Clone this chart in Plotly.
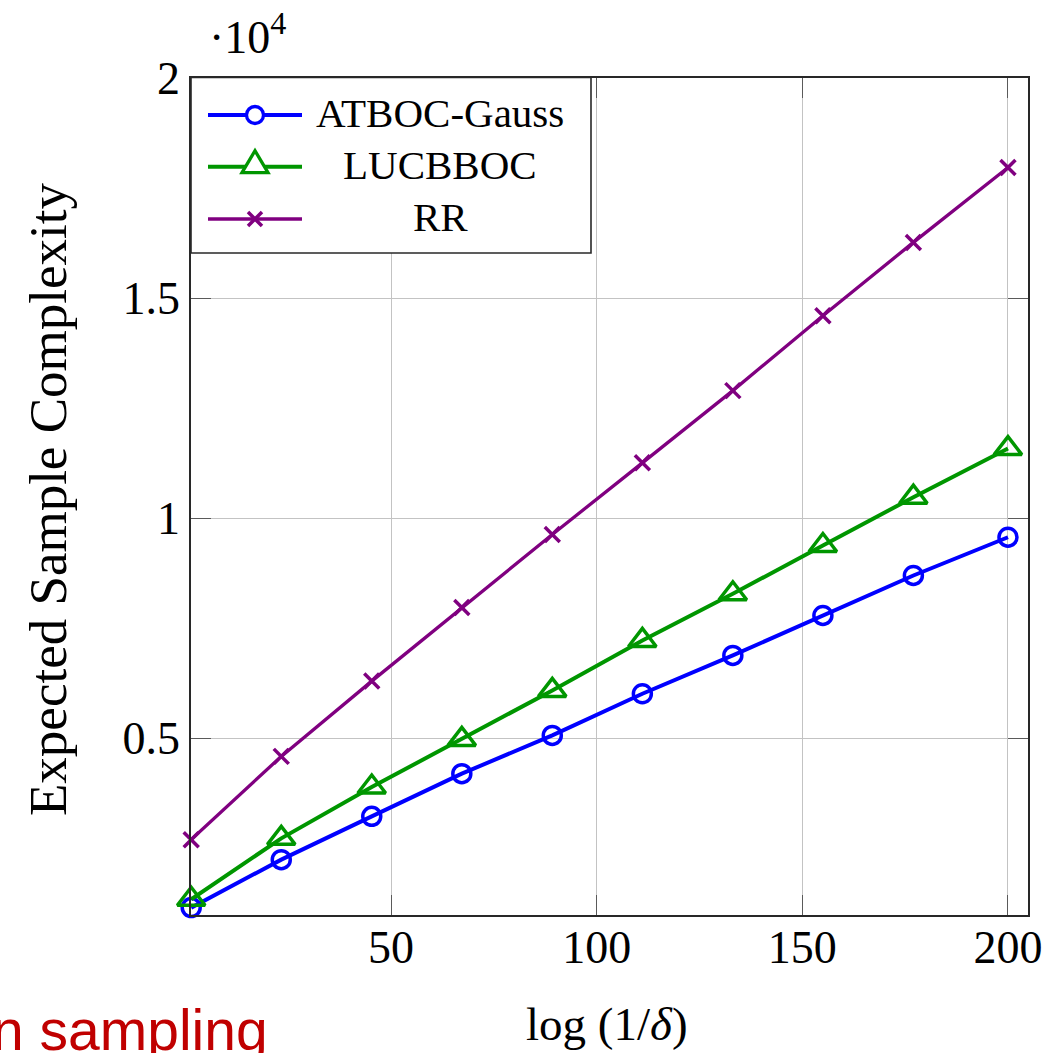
import plotly.graph_objects as go

# ---- data ----
log_inv_delta = [1.4, 23.3, 45.3, 67.2, 89.2, 111.1, 133.1, 155.0, 177.0, 200.0]
atboc_gauss = [1151, 2241, 3224, 4194, 5064, 6010, 6880, 7788, 8697, 9566]
lucbboc = [1340, 2725, 3890, 4973, 6085, 7221, 8281, 9378, 10475, 11580]
rr = [2695, 4587, 6297, 7970, 9628, 11256, 12897, 14600, 16265, 17968]

series_names = ["ATBOC-Gauss", "LUCBBOC", "RR"]
x_ticks = [50, 100, 150, 200]
y_ticks = [5000, 10000, 15000, 20000]
y_tick_labels = ["0.5", "1", "1.5", "2"]

BLUE = "rgb(0,0,255)"
GREEN = "rgb(0,150,0)"
PURPLE = "rgb(128,0,128)"
SERIF = "Liberation Serif, Times New Roman, serif"

W, H = 1059, 1053
L, R, T, B = 191, 31, 78, 138
PW, PH = W - L - R, H - T - B


def px(x):
    return (x - L) / PW


def py(y):
    return (H - B - y) / PH


fig = go.Figure()
fig.add_trace(go.Scatter(
    x=log_inv_delta, y=atboc_gauss, mode="lines+markers", name=series_names[0],
    line=dict(color=BLUE, width=4),
    marker=dict(symbol="circle-open", size=18, color=BLUE, line=dict(width=3.5, color=BLUE)),
    cliponaxis=False))
fig.add_trace(go.Scatter(
    x=log_inv_delta, y=lucbboc, mode="lines+markers", name=series_names[1],
    line=dict(color=GREEN, width=4),
    marker=dict(symbol="triangle-up-open", size=24, color=GREEN, line=dict(width=3.5, color=GREEN)),
    cliponaxis=False))
fig.add_trace(go.Scatter(
    x=log_inv_delta, y=rr, mode="lines+markers", name=series_names[2],
    line=dict(color=PURPLE, width=3.3),
    marker=dict(symbol="x-thin-open", size=15, color=PURPLE, line=dict(width=3.5, color=PURPLE)),
    cliponaxis=False))

axis_common = dict(
    showgrid=True, gridcolor="rgb(195,195,195)", gridwidth=1.3,
    showline=True, linecolor="rgb(40,40,40)", linewidth=1.6, mirror="ticks",
    ticks="inside", ticklen=20, tickwidth=1.3, tickcolor="rgb(90,90,90)",
    zeroline=False, tickfont=dict(family=SERIF, size=46, color="black"),
)
fig.update_xaxes(range=[1.35, 204.87], tickvals=x_ticks, **axis_common)
fig.update_yaxes(range=[983, 20000], tickvals=y_ticks, ticktext=y_tick_labels, **axis_common)
try:
    fig.update_xaxes(ticklabelstandoff=-9)
except Exception:
    pass

# ---- custom legend (pgfplots style, centred text) ----
shapes = [dict(type="rect", xref="paper", yref="paper", x0=px(191), x1=px(591), y0=py(253), y1=py(77.5),
               line=dict(color="rgb(40,40,40)", width=1.6), fillcolor="white", layer="above")]
rows = [115, 166.7, 219]
colors = [BLUE, GREEN, PURPLE]
widths = [4, 4, 3.5]
for rowy, c, w in zip(rows, colors, widths):
    shapes.append(dict(type="line", xref="paper", yref="paper", x0=px(208), x1=px(302), y0=py(rowy), y1=py(rowy),
                       line=dict(color=c, width=w), layer="above"))
mx = px(255)
shapes.append(dict(type="circle", xref="paper", yref="paper", xsizemode="pixel", ysizemode="pixel",
                   xanchor=mx, yanchor=py(rows[0]), x0=-8.5, x1=8.5, y0=-8.5, y1=8.5,
                   line=dict(color=BLUE, width=3.3), fillcolor="white", layer="above"))
shapes.append(dict(type="path", xref="paper", yref="paper", xsizemode="pixel", ysizemode="pixel",
                   xanchor=mx, yanchor=py(rows[1]), path="M-13,-6L13,-6L0,16Z",
                   line=dict(color=GREEN, width=3.3), fillcolor="white", layer="above"))
shapes.append(dict(type="path", xref="paper", yref="paper", xsizemode="pixel", ysizemode="pixel",
                   xanchor=mx, yanchor=py(rows[2]), path="M-7,-7L7,7M-7,7L7,-7",
                   line=dict(color=PURPLE, width=3.5), layer="above"))

annotations = []
for name, rowy in zip(series_names, rows):
    annotations.append(dict(text=name, xref="paper", yref="paper", x=px(440), y=py(rowy - 2),
                            xanchor="center", yanchor="middle", showarrow=False,
                            font=dict(family=SERIF, size=41, color="black")))

annotations += [
    dict(text="Expected Sample Complexity", textangle=-90, xref="paper", yref="paper",
         x=px(48), y=py(500), xanchor="center", yanchor="middle", showarrow=False,
         font=dict(family=SERIF, size=53, color="black")),
    dict(text="log (1/<i>δ</i>)", xref="paper", yref="paper", x=px(607), y=py(1024),
         xanchor="center", yanchor="middle", showarrow=False,
         font=dict(family=SERIF, size=47, color="black")),
    dict(text="·10<sup>4</sup>", xref="paper", yref="paper", x=px(207), y=py(34),
         xanchor="left", yanchor="middle", showarrow=False,
         font=dict(family=SERIF, size=46, color="black")),
    dict(text="n sampling", xref="paper", yref="paper", x=px(270), y=py(1030),
         xanchor="right", yanchor="middle", showarrow=False,
         font=dict(family="Liberation Sans, Arial, sans-serif", size=57, color="rgb(192,0,0)")),
]

fig.update_layout(
    width=W, height=H, margin=dict(l=L, r=R, t=T, b=B),
    paper_bgcolor="white", plot_bgcolor="white", showlegend=False,
    shapes=shapes, annotations=annotations,
)

fig.write_html("out.html")
